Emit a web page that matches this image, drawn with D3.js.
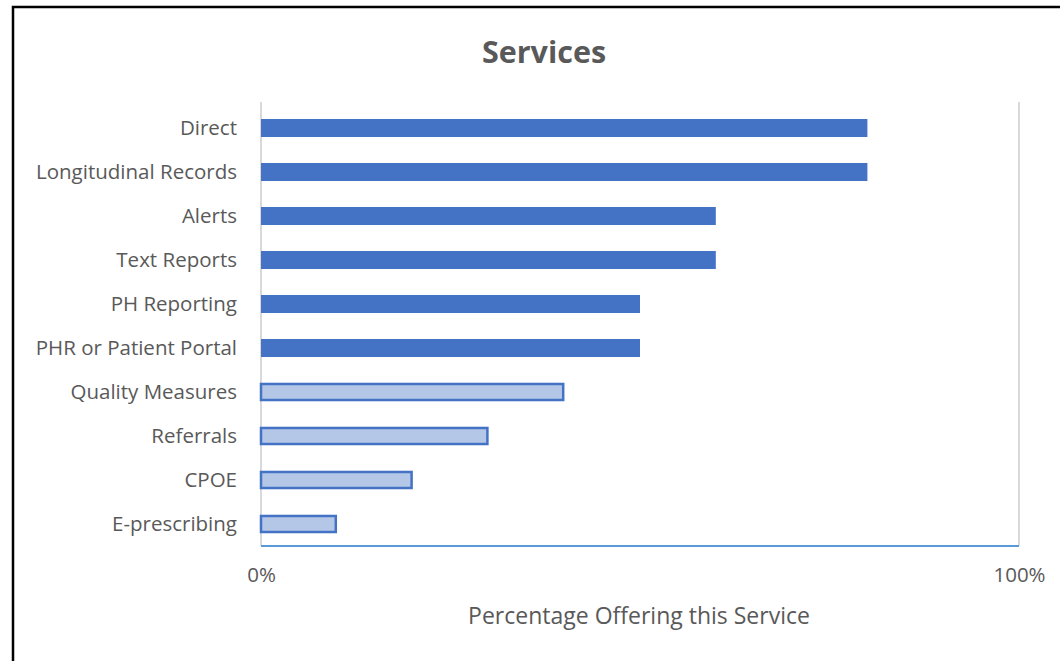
<!DOCTYPE html>
<html><head><meta charset="utf-8">
<script src="https://cdn.jsdelivr.net/npm/d3@7"></script>
<style>body{margin:0;background:#fff}svg{display:block}</style>
</head><body>
<script>
const categories = ["Direct","Longitudinal Records","Alerts","Text Reports","PH Reporting","PHR or Patient Portal","Quality Measures","Referrals","CPOE","E-prescribing"];
const values = [0.80,0.80,0.60,0.60,0.50,0.50,0.40,0.30,0.20,0.10];
const highlighted = [true,true,true,true,true,true,false,false,false,false];
const tickValues = [0,1];
const tickLabels = ["0%","100%"];

const W=1060,H=661;
const svg=d3.select("body").append("svg").attr("width",W).attr("height",H);
svg.append("rect").attr("width",W).attr("height",H).attr("fill","#fff");
svg.append("rect").attr("x",13).attr("y",7).attr("width",W+20).attr("height",H+20)
  .attr("fill","none").attr("stroke","#000").attr("stroke-width",2.5);

const font="'Open Sans', sans-serif";
const x=d3.scaleLinear().domain([0,1]).range([261,1019]);
const y=d3.scaleBand().domain(categories).range([106,546]).paddingInner(0.59).paddingOuter(0.295);

svg.append("text").attr("x",544).attr("y",63).attr("text-anchor","middle")
  .attr("font-family",font).attr("font-weight","bold").attr("font-size",30.5).attr("fill","#595959").text("Services");

// gridlines
svg.append("g").selectAll("line").data(tickValues).join("line")
  .attr("x1",d=>x(d)).attr("x2",d=>x(d)).attr("y1",102).attr("y2",546)
  .attr("stroke","#d9d9d9").attr("stroke-width",2);

// bars
svg.append("g").selectAll("rect").data(categories).join("rect")
  .attr("x",x(0)).attr("y",d=>y(d)+(highlighted[categories.indexOf(d)]?0:1))
  .attr("width",(d,i)=>x(values[i])-x(0)-(highlighted[i]?0:1))
  .attr("height",(d,i)=>y.bandwidth()-(highlighted[i]?0:2))
  .attr("fill",(d,i)=>highlighted[i]?"#4472C4":"#B4C7E7")
  .attr("stroke",(d,i)=>highlighted[i]?"none":"#4472C4")
  .attr("stroke-width",2.5);

// baseline
svg.append("line").attr("x1",x(0)).attr("x2",x(1)).attr("y1",546).attr("y2",546)
  .attr("stroke","#5B9BD5").attr("stroke-width",2);

// y labels
const ya=svg.append("g").attr("transform",`translate(${x(0)},0)`).call(d3.axisLeft(y).tickSize(0).tickPadding(24));
ya.select(".domain").remove();
ya.selectAll("text").attr("font-family",font).attr("font-size",20.5).attr("fill","#595959");

// x ticks
const xa=svg.append("g").attr("transform","translate(0,546)")
  .call(d3.axisBottom(x).tickValues(tickValues).tickFormat((d,i)=>tickLabels[i]).tickSize(0).tickPadding(21));
xa.select(".domain").remove();
xa.selectAll("text").attr("font-family",font).attr("font-size",20.5).attr("fill","#595959");

svg.append("text").attr("x",639).attr("y",624).attr("text-anchor","middle")
  .attr("font-family",font).attr("font-size",23).attr("fill","#595959").text("Percentage Offering this Service");
</script>
</body></html>
